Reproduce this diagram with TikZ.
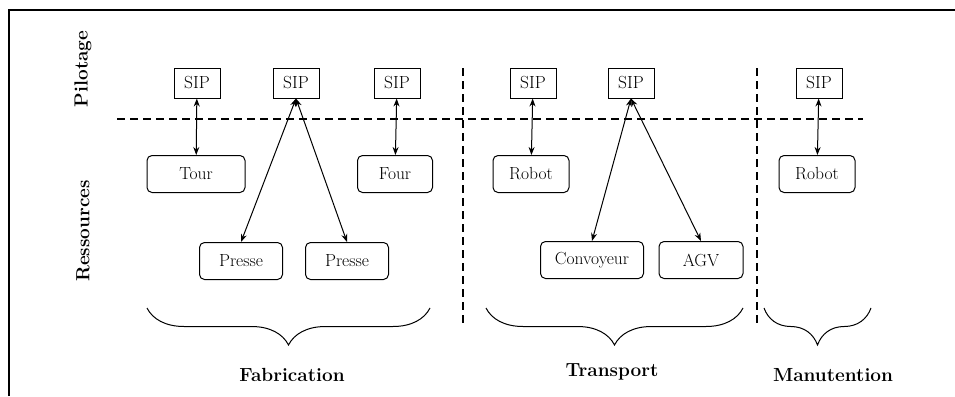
\documentclass[tikz,border=0pt]{standalone}
\usepackage{fontspec}
\usetikzlibrary{decorations.pathreplacing,arrows.meta}
\begin{document}
\begin{tikzpicture}[x=1pt,y=-1pt,>={Stealth[length=8pt,width=6pt]},line width=1pt,
	sip/.style={draw,inner sep=0pt,minimum width=46pt,minimum height=30pt,font=\fontsize{17.5}{20}\selectfont},
	res/.style={draw,rounded corners=5pt,inner sep=0pt,minimum height=37pt,font=\fontsize{17.5}{20}\selectfont},
	lane/.style={font=\bfseries\fontsize{19}{22}\selectfont},
	sep/.style={dash pattern=on 8pt off 5pt,line width=1.8pt}]
	\useasboundingbox (0,0) rectangle (955,396);
	\draw[line width=2.5pt] (9,396)--(9,10)--(955,10);
	% niveaux
	\node[lane,rotate=90] (pil) at (83,69) {Pilotage};
	\node[lane,rotate=90] (res) at (83,231) {Ressources};
	\draw[sep] (117,119)--(863,119);
	\draw[sep] (463,68)--(463,325);
	\draw[sep] (757,68)--(757,325);
	% SIP
	\node[sip] (S1) at (197,83) {SIP};
	\node[sip] (S2) at (296,83) {SIP};
	\node[sip] (S3) at (397,83) {SIP};
	\node[sip] (S4) at (533,83) {SIP};
	\node[sip] (S5) at (631,83) {SIP};
	\node[sip] (S6) at (819,83) {SIP};
	% ressources
	\node[res,minimum width=98pt] (T) at (196,174) {Tour};
	\node[res,minimum width=75pt] (F) at (395,174) {Four};
	\node[res,minimum width=76pt] (R1) at (531,174) {Robot};
	\node[res,minimum width=76pt] (R2) at (817,174) {Robot};
	\node[res,minimum width=83pt] (P1) at (241,261) {Presse};
	\node[res,minimum width=83pt] (P2) at (347,261) {Presse};
	\node[res,minimum width=103pt] (C) at (592,260) {Convoyeur};
	\node[res,minimum width=84pt] (A) at (701,260) {AGV};
	\draw[<->](S1)--(T);
	\draw[<->](S2.south)--(P1.north);
	\draw[<->](S2.south)--(P2.north);
	\draw[<->](S3)--(F);
	\draw[<->](S4)--(R1);
	\draw[<->](S5.south)--(C.north);
	\draw[<->](S5.south)--(A.north);
	\draw[<->](S6)--(R2);
	% accolades
	\coordinate (fa) at (147,308);
	\coordinate (fb) at (430,308);
	\coordinate (ta) at (486,308);
	\coordinate (tb) at (743,308);
	\coordinate (ma) at (764,308);
	\coordinate (mb) at (871,308);
	\draw[decorate,decoration={brace,mirror,amplitude=37pt}] (fa)--(fb);
	\draw[decorate,decoration={brace,mirror,amplitude=37pt}] (ta)--(tb);
	\draw[decorate,decoration={brace,mirror,amplitude=37pt}] (ma)--(mb);
	\node[lane] (fab) at (292,375) {Fabrication};
	\node[lane] (tra) at (612,372) {Transport};
	\node[lane] (man) at (833,375) {Manutention};
\end{tikzpicture}
\end{document}
